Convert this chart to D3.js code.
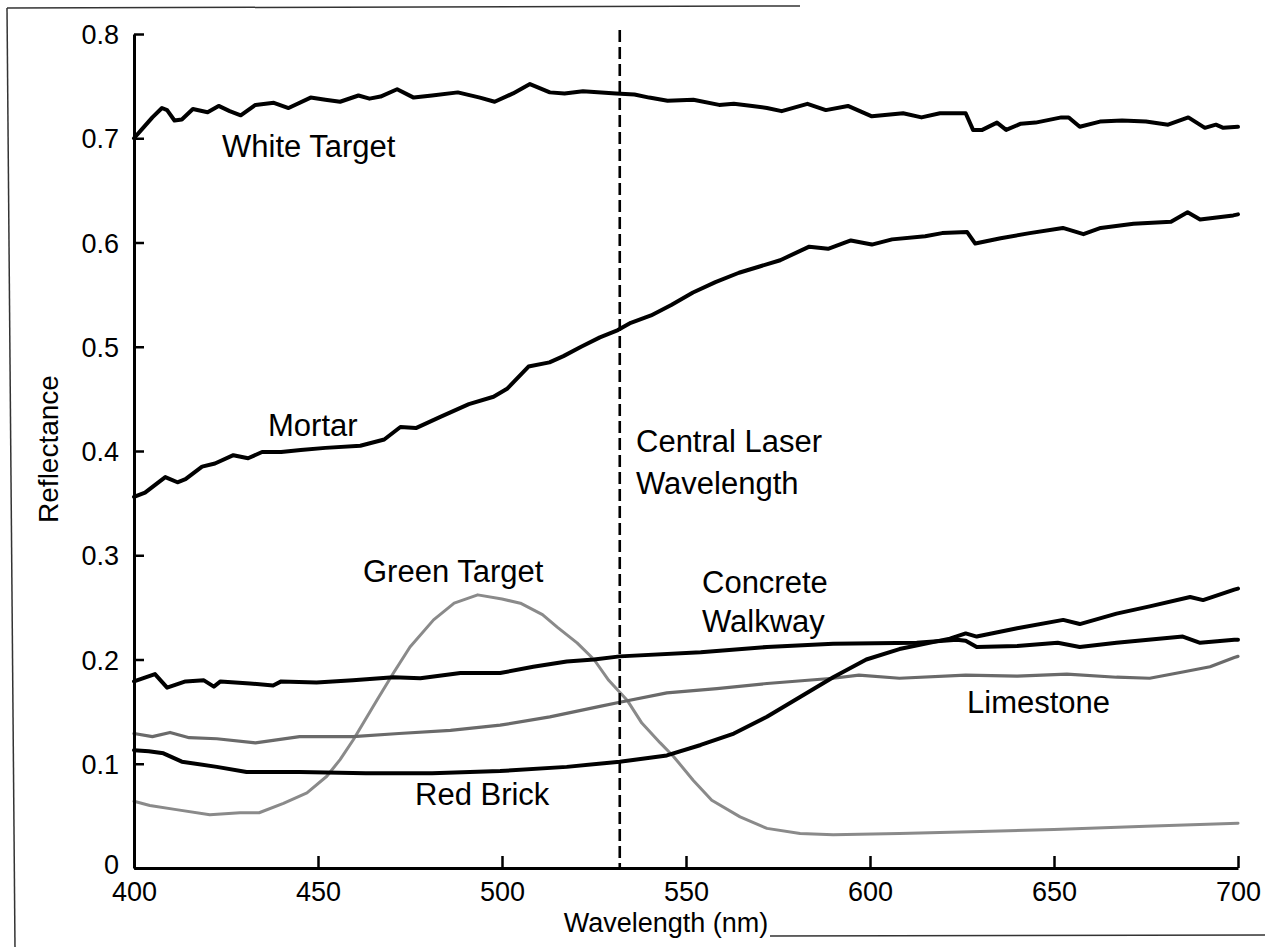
<!DOCTYPE html>
<html><head><meta charset="utf-8">
<script src="https://cdn.jsdelivr.net/npm/d3@7"></script>
<style>
html,body{margin:0;padding:0;background:#fff;}
svg{display:block;}
text{font-family:"Liberation Sans",Arial,Helvetica,sans-serif;fill:#000;}
</style></head>
<body>
<svg id="chart" width="1273" height="947"></svg>
<script>
// ---- data ----
const xTicks = [400, 450, 500, 550, 600, 650, 700];
const yTicks = [0, 0.1, 0.2, 0.3, 0.4, 0.5, 0.6, 0.7, 0.8];
const laserWavelength = 532;

const whiteTarget = [[400,0.700],[402,0.708],[405,0.72],[407.6,0.729],[409,0.727],[411,0.717],[413,0.718],[416,0.728],[420,0.725],[423,0.731],[426,0.726],[429,0.722],[433,0.732],[438,0.734],[442,0.729],[448,0.739],[452,0.737],[456,0.735],[461,0.741],[464,0.738],[467,0.740],[471.5,0.747],[476,0.739],[481,0.741],[488,0.744],[494,0.739],[498,0.735],[503,0.743],[507.6,0.752],[513,0.744],[517,0.743],[522,0.745],[527,0.744],[531,0.743],[536,0.742],[540,0.739],[545,0.736],[552,0.737],[559,0.732],[563,0.733],[568,0.731],[572,0.729],[576,0.726],[583,0.733],[588,0.727],[594,0.731],[600.5,0.721],[609,0.724],[614,0.720],[619,0.724],[626,0.724],[628,0.708],[630.5,0.708],[634.5,0.715],[637,0.708],[641,0.714],[645,0.715],[652,0.720],[654,0.720],[657,0.711],[662.5,0.716],[668.5,0.717],[675,0.716],[681,0.713],[686.5,0.720],[691,0.710],[694,0.713],[696,0.710],[700,0.711]];

const mortar = [[400,0.356],[403,0.360],[408.5,0.375],[411.8,0.370],[414,0.373],[418.5,0.385],[422,0.388],[427,0.396],[431,0.393],[434.8,0.399],[440,0.399],[445.3,0.401],[452,0.403],[461.5,0.405],[468,0.411],[472.4,0.423],[476.6,0.422],[483.4,0.433],[491,0.445],[497.7,0.452],[501.5,0.460],[507.2,0.481],[512.9,0.485],[516.7,0.491],[521.5,0.500],[526.6,0.509],[531.5,0.516],[535,0.523],[540.5,0.530],[546,0.540],[551.9,0.552],[558,0.562],[564.4,0.571],[570,0.577],[575.6,0.583],[583.5,0.596],[588.6,0.594],[594.8,0.602],[600.5,0.598],[606,0.603],[615,0.606],[619.6,0.609],[626.4,0.610],[628.6,0.599],[635.5,0.604],[643.4,0.609],[652.4,0.614],[658,0.608],[662.7,0.614],[671.6,0.618],[681.8,0.620],[686.3,0.629],[689.7,0.622],[698.7,0.626],[700,0.627]];

const greenTarget = [[400,0.064],[404.3,0.060],[411.5,0.056],[420.6,0.051],[428.8,0.053],[434,0.053],[440.6,0.062],[447,0.072],[452.4,0.088],[456,0.104],[459.6,0.123],[466,0.161],[470.5,0.187],[475,0.212],[481.4,0.238],[487,0.254],[493.4,0.262],[500,0.258],[505,0.254],[511,0.243],[515,0.231],[520.4,0.216],[525,0.200],[529,0.180],[534,0.161],[538,0.139],[543,0.120],[546.6,0.107],[552,0.084],[557,0.065],[564.7,0.049],[572,0.038],[581,0.033],[590,0.032],[608,0.033],[630,0.035],[650,0.037],[675,0.040],[700,0.043]];

const redBrick = [[400,0.113],[404,0.112],[408,0.110],[413,0.102],[422.5,0.097],[430.6,0.092],[445,0.092],[463,0.091],[481,0.091],[499.5,0.093],[517.6,0.097],[532,0.102],[544.8,0.108],[554,0.118],[563,0.129],[572,0.145],[581,0.164],[590,0.183],[599,0.200],[608,0.210],[621.7,0.220],[626,0.225],[629,0.222],[640,0.230],[652.5,0.238],[657,0.234],[667,0.244],[676,0.251],[687,0.260],[690.5,0.257],[699,0.267],[700,0.268]];

const concreteWalkway = [[400,0.179],[405.7,0.186],[409,0.173],[414,0.179],[419,0.180],[421.7,0.174],[423.5,0.179],[431.5,0.177],[437.8,0.175],[440,0.179],[449.6,0.178],[459.5,0.180],[470.5,0.183],[477.8,0.182],[488.7,0.187],[499.5,0.187],[508.5,0.193],[517.6,0.198],[525,0.200],[532,0.203],[554,0.207],[572,0.212],[590,0.215],[612.7,0.216],[623.6,0.219],[626,0.218],[629,0.212],[640,0.213],[651,0.216],[657,0.212],[667,0.216],[685,0.222],[689.7,0.216],[699,0.219],[700,0.219]];

const limestone = [[400,0.129],[405,0.126],[409.8,0.130],[415,0.125],[422.5,0.124],[433,0.120],[445,0.126],[459.5,0.126],[472,0.129],[486,0.132],[499.5,0.137],[513,0.145],[526.6,0.155],[532,0.159],[544.8,0.168],[558.4,0.172],[572,0.177],[590,0.182],[597,0.185],[608,0.182],[626,0.185],[640,0.184],[653.5,0.186],[667,0.183],[676,0.182],[685,0.188],[692.4,0.193],[699,0.202],[700,0.203]];

const seriesNames = ["White Target","Mortar","Green Target","Red Brick","Concrete Walkway","Limestone"];

// ---- chart ----
const svg = d3.select("#chart");
const x = d3.scaleLinear().domain([400,700]).range([134,1238]);
const y = d3.scaleLinear().domain([0,0.8]).range([868,34]);

// scan frame lines
const frame = svg.append("g").attr("stroke","#333").attr("stroke-width",1.5).attr("fill","none");
frame.append("line").attr("x1",7).attr("y1",8).attr("x2",15).attr("y2",947);
frame.append("line").attr("x1",7).attr("y1",8).attr("x2",800).attr("y2",6);
frame.append("line").attr("x1",770).attr("y1",936).attr("x2",1265).attr("y2",935);

const line = d3.line().x(d=>x(d[0])).y(d=>y(d[1]));

const styles = [
  {data: greenTarget, color:"#8a8a8a", w:3},
  {data: limestone, color:"#6a6a6a", w:3.2},
  {data: concreteWalkway, color:"#000", w:4},
  {data: redBrick, color:"#000", w:4},
  {data: mortar, color:"#000", w:4},
  {data: whiteTarget, color:"#000", w:4}
];
svg.append("g").selectAll("path").data(styles).join("path")
  .attr("d", s=>line(s.data))
  .attr("fill","none")
  .attr("stroke", s=>s.color)
  .attr("stroke-width", s=>s.w)
  .attr("stroke-linejoin","round")
  .attr("stroke-linecap","round");

// laser line
svg.append("line")
  .attr("x1", x(laserWavelength)).attr("x2", x(laserWavelength))
  .attr("y1", y(0.8)-4).attr("y2", y(0))
  .attr("stroke","#000").attr("stroke-width",2.6)
  .attr("stroke-dasharray","12,5");

// axes
const xAxis = d3.axisBottom(x).tickValues(xTicks).tickFormat(d3.format("d"))
  .tickSizeInner(-12).tickSizeOuter(0).tickPadding(14);
const yAxis = d3.axisLeft(y).tickValues(yTicks).tickFormat(d=> d===0 ? "0" : d3.format(".1f")(d))
  .tickSizeInner(-10).tickSizeOuter(0).tickPadding(15);

const gx = svg.append("g").attr("transform",`translate(0,${y(0)})`).call(xAxis);
const gy = svg.append("g").attr("transform",`translate(${x(400)},0)`).call(yAxis);
[gx,gy].forEach(g=>{
  g.select(".domain").attr("stroke","#000").attr("stroke-width",3);
  g.selectAll(".tick line").attr("stroke","#000").attr("stroke-width",2.5);
  g.selectAll(".tick text").attr("font-size",27).attr("fill","#000")
    .attr("font-family","Liberation Sans, Arial, sans-serif");
});
gy.selectAll(".tick text").attr("dy", d => d===0 ? "0.2em" : "0.36em");

// axis titles
svg.append("text").attr("x",666).attr("y",932).attr("text-anchor","middle")
  .attr("font-size",27).text("Wavelength (nm)");
svg.append("text").attr("transform","translate(58,449) rotate(-90)").attr("text-anchor","middle")
  .attr("font-size",28).text("Reflectance");

// annotations
const ann = [
  {t:"White Target", x:222, y:157},
  {t:"Mortar", x:268, y:436},
  {t:"Central Laser", x:636, y:452},
  {t:"Wavelength", x:636, y:494},
  {t:"Green Target", x:363, y:582},
  {t:"Concrete", x:702, y:593},
  {t:"Walkway", x:702, y:632},
  {t:"Limestone", x:967, y:713},
  {t:"Red Brick", x:415, y:805}
];
svg.append("g").selectAll("text").data(ann).join("text")
  .attr("x",d=>d.x).attr("y",d=>d.y).attr("font-size",31).text(d=>d.t);
</script>
</body></html>
